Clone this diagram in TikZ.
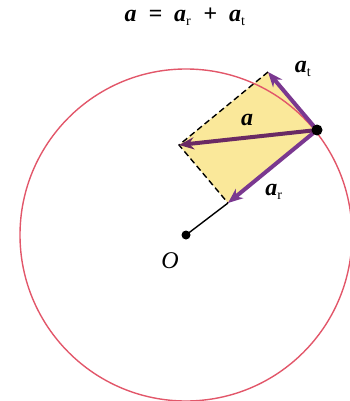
\documentclass[tikz,border=0pt]{standalone}
\usepackage{fontspec}
\setmainfont{Liberation Serif}
\usetikzlibrary{arrows.meta}
\definecolor{circ}{HTML}{E2576A}
\definecolor{fillY}{HTML}{FAE89A}
\definecolor{vec}{HTML}{7A3890}
\definecolor{vecA}{HTML}{6A2A64}
\begin{document}
\begin{tikzpicture}[x=1pt,y=-1pt,
  vecstyle/.style={line width=4pt, -{Stealth[length=15pt,width=12pt]}},
  lbl/.style={font=\fontsize{24}{24}\selectfont\bfseries\itshape, inner sep=0pt},
  dotstyle/.style={circle, fill=black, inner sep=0pt}]
\useasboundingbox (0,0) rectangle (349,401);
\coordinate (O) at (186,235);
\coordinate (T) at (268,72);
\coordinate (B) at (228,203);
\coordinate (L) at (179,145);
\coordinate (Pc) at (317,130);
\fill[fillY] (Pc) -- (T) -- (L) -- (B) -- cycle;
\draw[circ, line width=1.4pt] (O) circle[radius=166pt];
\draw[black, line width=1.4pt, dash pattern=on 6pt off 3.5pt] (T) -- (L) -- (B);
\draw[black, line width=1.4pt] (B) -- (O);
\draw[vecstyle, vec] (Pc) -- (T);
\draw[vecstyle, vec] (Pc) -- (B);
\draw[vecstyle, vecA] (Pc) -- (L);
\node[dotstyle, minimum size=11pt] (P) at (Pc) {};
\node[dotstyle, minimum size=9pt] (Odot) at (O) {};
\node[font=\fontsize{24}{24}\selectfont\itshape] (Olbl) at (170,261) {O};
\node[lbl] (alab) at (247,120) {a};
\node[lbl] (atlab) at (303,69) {a\textsubscript{\normalfont\fontsize{14}{14}\selectfont t}};
\node[lbl] (arlab) at (274,192) {a\textsubscript{\normalfont\fontsize{14}{14}\selectfont r}};
\node[lbl] (title) at (185,17) {a\hspace{12pt}=\hspace{12pt}a\textsubscript{\normalfont\fontsize{14}{14}\selectfont r}\hspace{12pt}+\hspace{12pt}a\textsubscript{\normalfont\fontsize{14}{14}\selectfont t}};
\end{tikzpicture}
\end{document}
